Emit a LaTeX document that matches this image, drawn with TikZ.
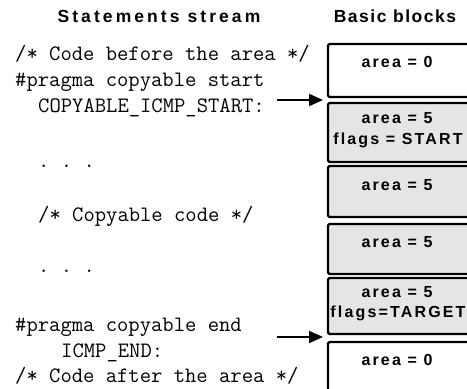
\documentclass[tikz,border=0pt]{standalone}
\usepackage{fontspec}
\usetikzlibrary{arrows.meta}
\newfontfamily\widehead{Liberation Sans}[LetterSpace=17.6]
\newfontfamily\narrowhead{Liberation Sans}[LetterSpace=8.8]
\newfontfamily\lblfont{Liberation Sans}[LetterSpace=13.5]
\tikzset{
  title/.style={font=\bfseries\fontsize{17.5}{19}\selectfont, inner sep=0pt},
  code/.style={font=\ttfamily\fontsize{22}{24}\selectfont, anchor=base west, inner sep=0pt},
  blk/.style={draw=black, line width=2.2pt, rounded corners=1.5pt},
  plainblk/.style={blk, fill=white},
  areablk/.style={blk, fill=black!10},
  lbl/.style={font=\lblfont\bfseries\fontsize{16}{18}\selectfont, inner sep=0pt},
  marker/.style={line width=2pt, -{Triangle[length=14pt,width=12pt]}}
}
\begin{document}
\begin{tikzpicture}[x=1pt, y=-1pt]
\useasboundingbox (0,0) rectangle (467,389);
\clip (0,0) rectangle (467,389);

% column headings
\node[title] (hstream) at (159,16) {\widehead\bfseries Statements stream};
\node[title] (hblocks) at (395,16) {\narrowhead\bfseries Basic blocks};

% statements stream
\node[code] (s1) at (15,60)  {/* Code before the area */};
\node[code] (s2) at (15,86)  {\#pragma copyable start};
\node[code] (s3) at (38,112) {COPYABLE\_ICMP\_START:};
\node[code] (s4) at (38,167) {.\ .\ .};
\node[code] (s5) at (38,221) {/* Copyable code */};
\node[code] (s6) at (38,272) {.\ .\ .};
\node[code] (s7) at (15,331) {\#pragma copyable end};
\node[code] (s8) at (61,357) {ICMP\_END:};
\node[code] (s9) at (15,382) {/* Code after the area */};

% basic blocks
\draw[plainblk] (328,44)  rectangle (480,97);
\draw[areablk]  (328,103) rectangle (480,162);
\draw[areablk]  (328,166) rectangle (480,217);
\draw[areablk]  (328,224) rectangle (480,274);
\draw[areablk]  (328,278) rectangle (480,334);
\draw[plainblk] (328,342) rectangle (480,400);

\node[lbl] (b1) at (397,62)  {area = 0};
\node[lbl] (b2a) at (397,118) {area = 5};
\node[lbl] (b2b) at (398,140) {flags = START};
\node[lbl] (b3) at (397,185) {area = 5};
\node[lbl] (b4) at (397,242) {area = 5};
\node[lbl] (b5a) at (397,292) {area = 5};
\node[lbl] (b5b) at (398,313) {flags=TARGET};
\node[lbl] (b6) at (397,360) {area = 0};

% markers pointing at the block boundaries
\coordinate (startfrom) at (277,100);
\coordinate (startto)   at (323,100);
\coordinate (endfrom)   at (277,337);
\coordinate (endto)     at (323,337);
\draw[marker] (startfrom) -- (startto);
\draw[marker] (endfrom) -- (endto);
\end{tikzpicture}
\end{document}
